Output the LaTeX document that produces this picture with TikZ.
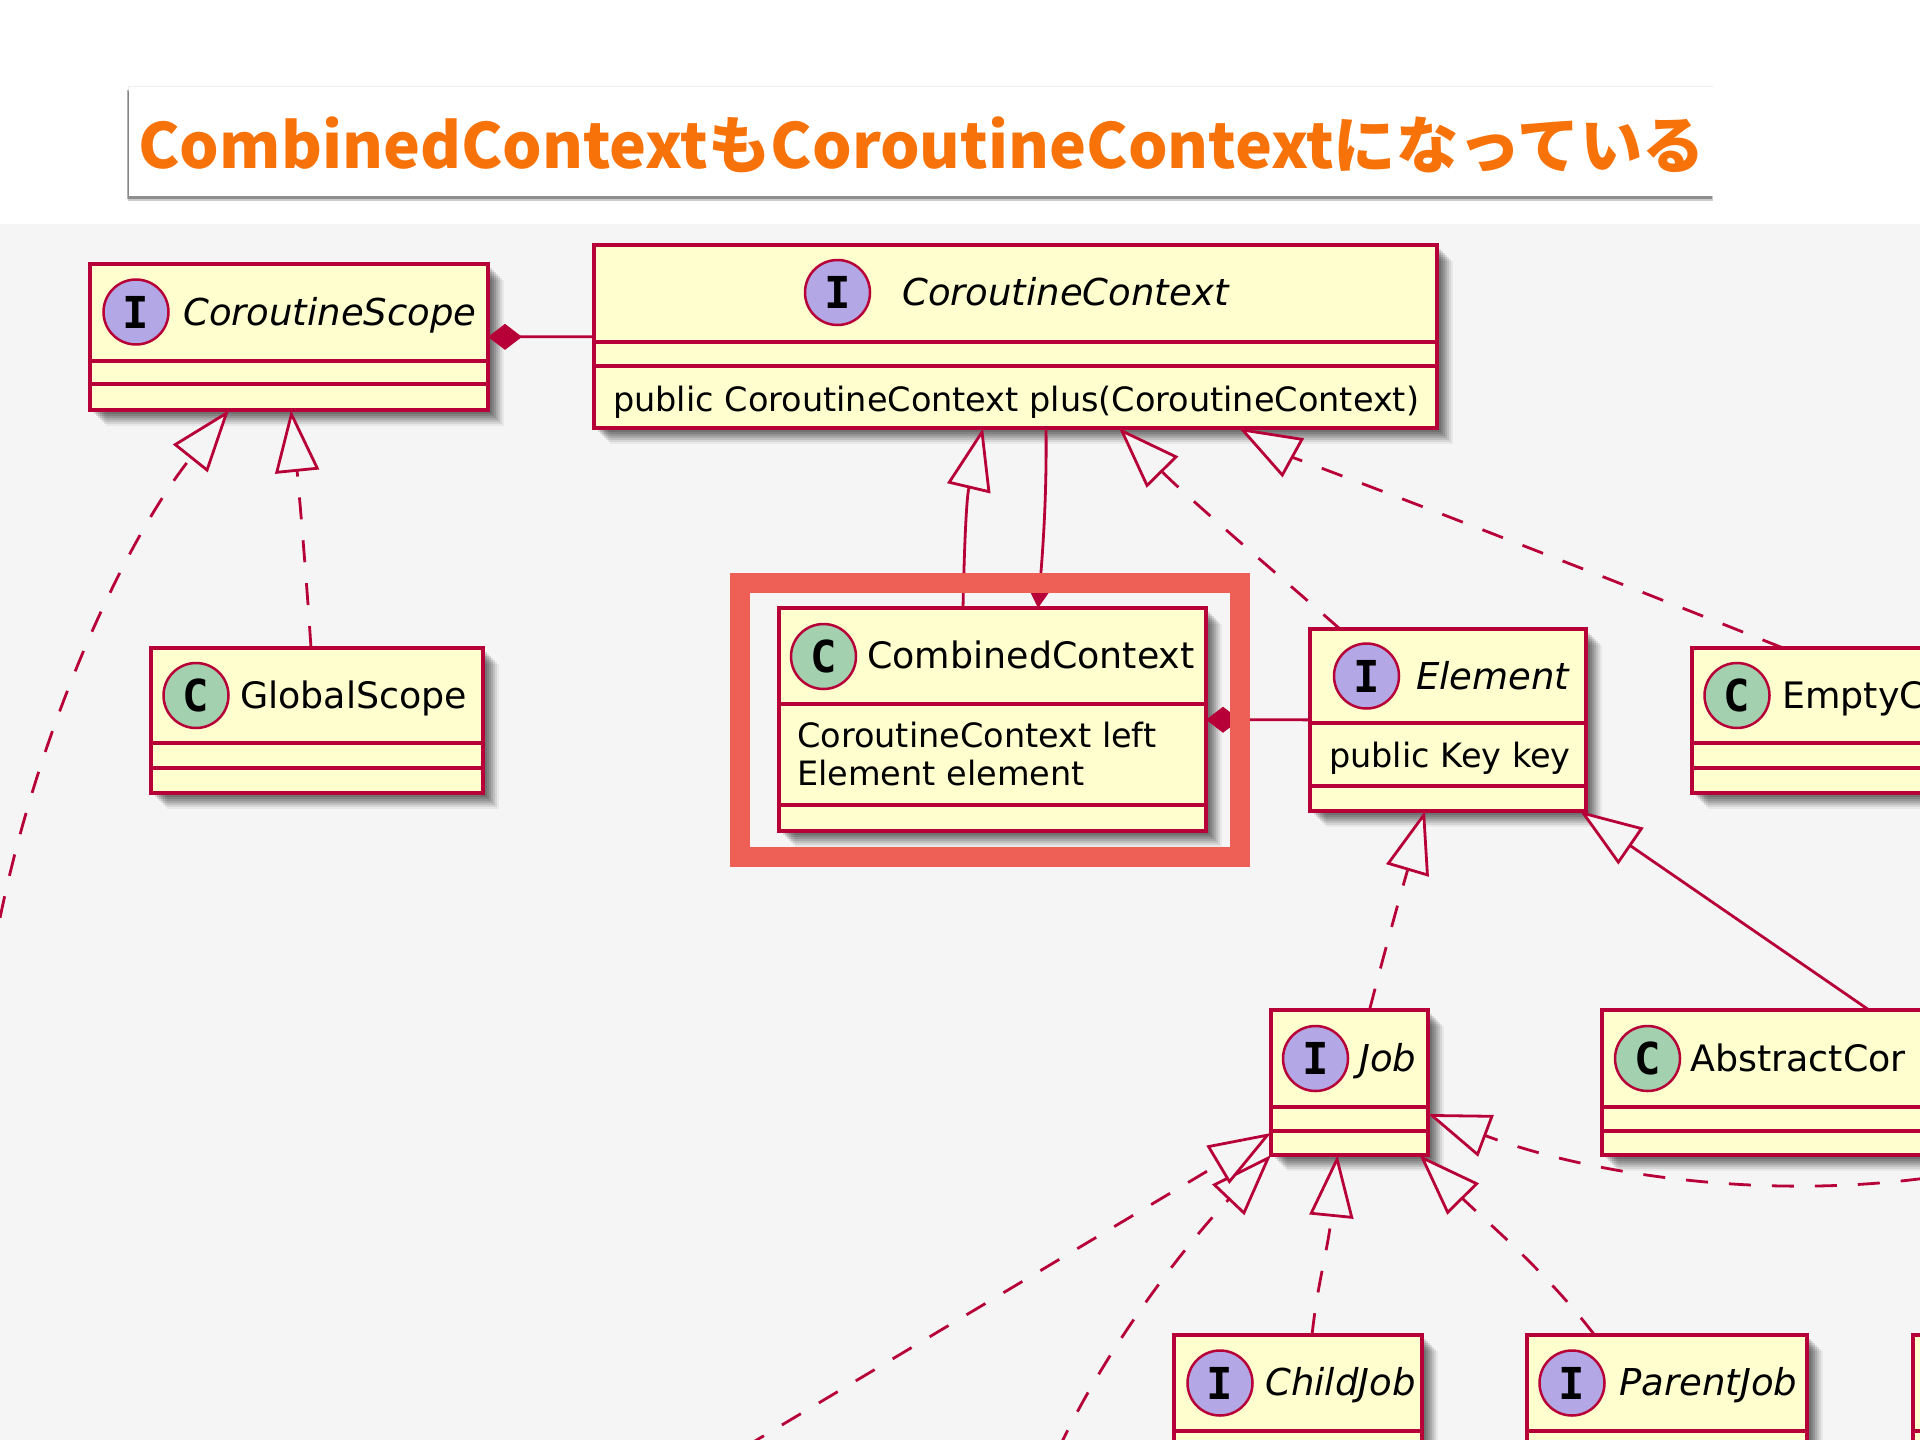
\documentclass[tikz,border=0pt]{standalone}
\usepackage{fontspec}
\setmainfont{DejaVu Sans}
\newfontfamily\titlefont{Noto Sans CJK JP}
\newfontfamily\iconfont{DejaVu Sans Mono}
\usetikzlibrary{arrows.meta,shadows}
\definecolor{umlred}{HTML}{B80038}
\definecolor{umlfill}{HTML}{FEFECE}
\definecolor{canvas}{HTML}{F5F5F6}
\definecolor{ifacefill}{HTML}{B4A7E5}
\definecolor{classfill}{HTML}{A3D0AE}
\definecolor{framered}{HTML}{EE5F55}
\definecolor{titleorange}{HTML}{F8720A}
\begin{document}
\begin{tikzpicture}[
    x=1pt,y=-1pt,
    classbox/.style={draw=umlred,fill=umlfill,line width=4pt,anchor=north west,inner sep=0pt,outer sep=0pt,
        drop shadow={shadow xshift=4pt,shadow yshift=-4pt,fill=black,opacity=.12},
        drop shadow={shadow xshift=6pt,shadow yshift=-6pt,fill=black,opacity=.12},
        drop shadow={shadow xshift=8pt,shadow yshift=-8pt,fill=black,opacity=.12},
        drop shadow={shadow xshift=10pt,shadow yshift=-10pt,fill=black,opacity=.11},
        drop shadow={shadow xshift=12pt,shadow yshift=-12pt,fill=black,opacity=.1},
        drop shadow={shadow xshift=14pt,shadow yshift=-14pt,fill=black,opacity=.08},
        drop shadow={shadow xshift=16pt,shadow yshift=-16pt,fill=black,opacity=.05}},
    sepline/.style={draw=umlred,line width=3.2pt},
    iicon/.style={circle,draw=umlred,fill=ifacefill,line width=2.5pt,minimum size=65pt,inner sep=0pt,font=\fontsize{44}{44}\iconfont\bfseries},
    cicon/.style={iicon,fill=classfill},
    cname/.style={anchor=base west,inner sep=0pt,font=\fontsize{36.4}{38}\selectfont},
    iname/.style={cname,font=\fontsize{37}{38}\selectfont\itshape},
    member/.style={anchor=base west,inner sep=0pt,align=left,font=\fontsize{33.5}{38}\selectfont},
    connect/.style={draw=umlred,line width=2.8pt},
    realize/.style={connect,dash pattern=on 22pt off 21pt,extend},
    extend/.style={-{Triangle[open,length=62pt,width=44pt,fill=canvas,line width=2.8pt]}},
    compose/.style={connect,{Diamond[length=34pt,width=26pt]}-},
    assoc/.style={connect,-{Triangle[length=26pt,width=30pt]}}
]
\useasboundingbox (0,0) rectangle (1920,1440);
\fill[white] (0,0) rectangle (1920,1440);
\fill[canvas] (0,224) rectangle (1920,1440);

\node[fill=white,minimum width=1585pt,minimum height=109pt,inner sep=0pt,text=titleorange,
    text height=60pt,text depth=7pt,
    font=\fontsize{62.3}{64}\titlefont\bfseries,
    drop shadow={shadow xshift=-1pt,shadow yshift=1.5pt,fill=black,opacity=.07},
    drop shadow={shadow xshift=-2pt,shadow yshift=-3pt,fill=black,opacity=.3},
    drop shadow={shadow xshift=-1pt,shadow yshift=-5pt,fill=black,opacity=.2}] (title) at (921.5,141.5)
    {CombinedContextもCoroutineContextになっている};

% classes
\node[classbox,minimum width=398pt,minimum height=146pt] (scope) at (90,264) {};
\node[classbox,minimum width=843pt,minimum height=183pt] (context) at (594,245) {};
\node[classbox,minimum width=332pt,minimum height=145pt] (global) at (151,648) {};
\node[classbox,minimum width=427pt,minimum height=223pt] (combined) at (779,608) {};
\node[classbox,minimum width=276pt,minimum height=182pt] (element) at (1310,629) {};
\node[classbox,minimum width=600pt,minimum height=145pt] (empty) at (1692,648) {};
\node[classbox,minimum width=157pt,minimum height=145pt] (job) at (1271,1010) {};
\node[classbox,minimum width=700pt,minimum height=145pt] (abstract) at (1602,1010) {};
\node[classbox,minimum width=248pt,minimum height=145pt] (child) at (1174,1335) {};
\node[classbox,minimum width=280pt,minimum height=145pt] (parent) at (1527,1335) {};
\node[classbox,minimum width=300pt,minimum height=145pt] (other) at (1913,1335) {};

\draw[sepline] ([yshift=-97pt]scope.north west) -- ([yshift=-97pt]scope.north east);
\draw[sepline] ([yshift=-120pt]scope.north west) -- ([yshift=-120pt]scope.north east);
\draw[sepline] ([yshift=-97pt]context.north west) -- ([yshift=-97pt]context.north east);
\draw[sepline] ([yshift=-121pt]context.north west) -- ([yshift=-121pt]context.north east);
\draw[sepline] ([yshift=-95pt]global.north west) -- ([yshift=-95pt]global.north east);
\draw[sepline] ([yshift=-120pt]global.north west) -- ([yshift=-120pt]global.north east);
\draw[sepline] ([yshift=-96pt]combined.north west) -- ([yshift=-96pt]combined.north east);
\draw[sepline] ([yshift=-197pt]combined.north west) -- ([yshift=-197pt]combined.north east);
\draw[sepline] ([yshift=-94pt]element.north west) -- ([yshift=-94pt]element.north east);
\draw[sepline] ([yshift=-157pt]element.north west) -- ([yshift=-157pt]element.north east);
\draw[sepline] ([yshift=-95pt]empty.north west) -- ([yshift=-95pt]empty.north east);
\draw[sepline] ([yshift=-120pt]empty.north west) -- ([yshift=-120pt]empty.north east);
\draw[sepline] ([yshift=-97pt]job.north west) -- ([yshift=-97pt]job.north east);
\draw[sepline] ([yshift=-121pt]job.north west) -- ([yshift=-121pt]job.north east);
\draw[sepline] ([yshift=-97pt]abstract.north west) -- ([yshift=-97pt]abstract.north east);
\draw[sepline] ([yshift=-121pt]abstract.north west) -- ([yshift=-121pt]abstract.north east);
\draw[sepline] ([yshift=-96pt]child.north west) -- ([yshift=-96pt]child.north east);
\draw[sepline] ([yshift=-96pt]parent.north west) -- ([yshift=-96pt]parent.north east);
\draw[sepline] ([yshift=-96pt]other.north west) -- ([yshift=-96pt]other.north east);

% circled letters
\node[iicon] (scopeicon) at (136,312) {I};
\node[iicon] (contexticon) at (837.5,292.5) {I};
\node[cicon] (globalicon) at (196,695.5) {C};
\node[cicon] (combinedicon) at (823.5,656.5) {C};
\node[iicon] (elementicon) at (1366.5,676) {I};
\node[cicon] (emptyicon) at (1737,695.5) {C};
\node[iicon] (jobicon) at (1315.5,1058.5) {I};
\node[cicon] (abstracticon) at (1647.5,1058.5) {C};
\node[iicon] (childicon) at (1220,1383) {I};
\node[iicon] (parenticon) at (1572,1383) {I};

% names and members
\node[iname] (scopename) at (183,325) {CoroutineScope};
\node[iname] (contextname) at (902,305) {CoroutineContext};
\node[member] (contextplus) at (613,411) {public CoroutineContext plus(CoroutineContext)};
\node[cname] (globalname) at (240,708) {GlobalScope};
\node[cname] (combinedname) at (867,668) {CombinedContext};
\node[member] (combinedleft) at (797,747) {CoroutineContext left};
\node[member] (combinedelement) at (797,785) {Element element};
\node[iname] (elementname) at (1416,689) {Element};
\node[member] (elementkey) at (1329,767) {public Key key};
\node[cname] (emptyname) at (1782,708) {EmptyC};
\node[iname] (jobname) at (1359,1071) {Job};
\node[cname] (abstractname) at (1690,1071) {AbstractCor};
\node[iname] (childname) at (1265,1395) {ChildJob};
\node[iname] (parentname) at (1619,1395) {ParentJob};

% connectors
\coordinate (scopeleft) at (-8,960);
\coordinate (jobright) at (1965,1172);
\coordinate (jobbelowa) at (745,1447);
\coordinate (jobbelowb) at (1058,1450);

\draw[compose] (scope) -- (context);
\draw[compose] (combined) -- (element);
\draw[realize] (scopeleft) .. controls (30,740) and (125,540) .. ([xshift=-60pt]scope.south);
\draw[realize] ([xshift=-6pt]global.north) .. controls (306,570) and (298,480) .. ([xshift=2pt]scope.south);
\draw[connect,extend] ([xshift=-29.5pt]combined.north) .. controls (964,560) and (966,500) .. ([xshift=-32.5pt]context.south);
\draw[assoc] ([xshift=30.5pt]context.south) .. controls (1047,500) and (1042,560) .. ([xshift=45.5pt]combined.north);
\draw[realize] ([xshift=-108pt]element.north) .. controls (1290,585) and (1190,500) .. ([xshift=103.5pt]context.south);
\draw[realize] ([xshift=-209pt]empty.north) .. controls (1500,535) and (1290,456) .. ([xshift=223.5pt]context.south);
\draw[realize] ([xshift=20pt]job.north) .. controls (1385,950) and (1402,889) .. ([xshift=-23pt]element.south);
\draw[connect,extend] ([xshift=-83pt]abstract.north) -- ([xshift=132pt]element.south);
\draw[realize] (jobright) .. controls (1780,1205) and (1590,1175) .. ([yshift=-31.5pt]job.east);
\draw[realize] (jobbelowb) .. controls (1110,1340) and (1190,1240) .. (job.south west);
\draw[realize] (jobbelowa) -- ([yshift=-50.5pt]job.west);
\draw[realize] ([xshift=14pt]child.north) .. controls (1318,1280) and (1328,1250) .. ([xshift=-12pt]job.south);
\draw[realize] ([xshift=-72.5pt]parent.north) .. controls (1545,1270) and (1480,1216) .. ([xshift=70pt]job.south);

% highlight
\draw[framered,line width=20pt] (740,583) rectangle (1239.5,856.5);
\end{tikzpicture}
\end{document}
